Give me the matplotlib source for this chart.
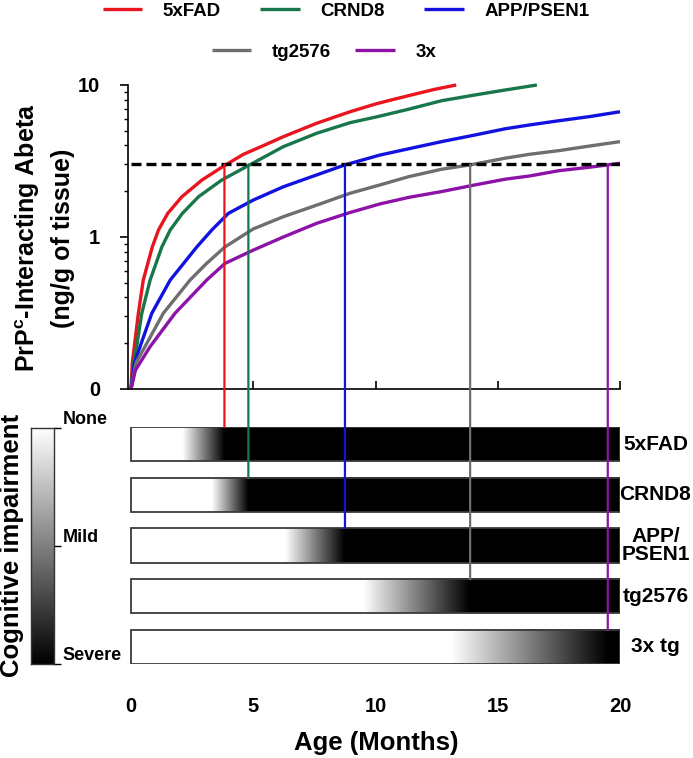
import numpy as np
import matplotlib
matplotlib.use("Agg")
import matplotlib.pyplot as plt
from matplotlib.patches import Rectangle, ConnectionPatch
from matplotlib.ticker import NullFormatter

plt.rcParams["font.family"] = ["Liberation Sans", "DejaVu Sans"]
plt.rcParams["font.weight"] = "bold"
plt.rcParams["mathtext.fontset"] = "custom"
plt.rcParams["mathtext.bf"] = "Liberation Sans:bold"
plt.rcParams["mathtext.rm"] = "Liberation Sans:bold"

# --- data ---
models = ["5xFAD", "CRND8", "APP/PSEN1", "tg2576", "3x"]
bar_labels = ["5xFAD", "CRND8", "APP/\nPSEN1", "tg2576", "3x tg"]
colors = ["#e8141e", "#17774a", "#1212e0", "#6e6e6e", "#8c12a8"]

fad_x = [0, 0.05, 0.3, 0.5, 0.87, 1.12, 1.5, 2.08, 2.9, 3.82, 4.6, 5.5, 6.23, 7.59,
         8.96, 10.0, 10.8, 11.6, 12.4, 13.3]
fad_y = [0.1, 0.148, 0.315, 0.52, 0.86, 1.11, 1.43, 1.84, 2.37, 2.95, 3.5, 4.05, 4.57, 5.6,
         6.67, 7.5, 8.09, 8.7, 9.35, 10]
crnd_x = [0, 0.1, 0.23, 0.44, 0.78, 1.26, 1.6, 2.1, 2.76, 3.71, 4.8, 6.23, 7.59, 8.96,
          10.1, 11.34, 12.7, 14.07, 15.3, 16.6]
crnd_y = [0.1, 0.148, 0.19, 0.315, 0.52, 0.86, 1.11, 1.43, 1.84, 2.37, 2.95, 3.93, 4.81, 5.65,
          6.2, 6.92, 7.88, 8.6, 9.27, 10]
app_x = [0, 0.14, 0.37, 0.85, 1.6, 2.69, 3.3, 3.98, 5.0, 6.23, 7.59, 8.75, 10.18, 11.34,
         12.7, 14.07, 15.3, 16.3, 17.5, 18.77, 20]
app_y = [0.1, 0.148, 0.19, 0.315, 0.52, 0.86, 1.11, 1.43, 1.75, 2.14, 2.56, 2.98, 3.46, 3.8,
         4.24, 4.69, 5.15, 5.46, 5.82, 6.2, 6.67]
tg_x = [0, 0.2, 0.57, 1.32, 2.41, 3.09, 3.84, 5.0, 6.23, 7.59, 8.96, 10.18, 11.34, 12.7,
        13.87, 15.3, 16.3, 17.5, 18.77, 20]
tg_y = [0.1, 0.148, 0.19, 0.315, 0.52, 0.67, 0.86, 1.13, 1.36, 1.62, 1.94, 2.2, 2.49, 2.79,
        2.98, 3.3, 3.5, 3.7, 3.97, 4.24]
tri_x = [0, 0.18, 0.78, 1.8, 3.09, 3.84, 5.0, 6.23, 7.59, 8.96, 10.18, 11.34, 12.7, 13.87,
         15.3, 16.3, 17.5, 18.77, 19.5, 20]
tri_y = [0.1, 0.133, 0.19, 0.315, 0.52, 0.67, 0.82, 1.0, 1.23, 1.45, 1.65, 1.82, 1.99, 2.17,
         2.4, 2.52, 2.73, 2.88, 2.98, 3.06]

curve_x = [fad_x, crnd_x, app_x, tg_x, tri_x]
curve_y = [fad_y, crnd_y, app_y, tg_y, tri_y]

threshold = 3.0
age_max = 20
onset_months = [3.82, 4.8, 8.75, 13.87, 19.5]    # curve crosses threshold -> full impairment
decline_start = [2.1, 3.3, 6.3, 9.5, 13.1]       # first sign of impairment
age_ticks = [0, 5, 10, 15, 20]
impairment_levels = ["None", "Mild", "Severe"]
impairment_pos = [1.0, 0.5, 0.0]

# --- layout (pixel boxes) ---
W, H = 693, 758
fig = plt.figure(figsize=(W / 100, H / 100), dpi=100)


def box(l, t, r, b):
    return [l / W, 1 - b / H, (r - l) / W, (b - t) / H]


ax1 = fig.add_axes(box(128.1, 85, 620, 389))
ax2 = fig.add_axes(box(128.1, 427, 620, 664))
axc = fig.add_axes(box(31, 428, 54, 664))

# --- top: abeta curves ---
for xs, ys, c, name in zip(curve_x, curve_y, colors, models):
    ax1.plot(xs, ys, color=c, lw=2.4, label=name, clip_on=False,
             solid_joinstyle="round", solid_capstyle="butt")
ax1.hlines(threshold, 0, age_max, colors="black", lw=2.4, linestyles=(0, (3, 1.5)))

ax1.set_yscale("log")
ax1.set_ylim(0.1, 10)
ax1.set_xlim(-0.12, age_max)
ax1.set_yticks([0.1, 1, 10])
ax1.set_yticklabels(["0", "1", "10"], fontsize=14.5)
ax1.yaxis.set_minor_formatter(NullFormatter())
ax1.tick_params(axis="y", which="major", length=6, width=1.2, pad=14)
ax1.tick_params(axis="y", which="minor", length=3, width=1)
ax1.set_xticks(age_ticks)
ax1.set_xticklabels([])
ax1.tick_params(axis="x", direction="in", length=6, width=1.2)
for s in ["top", "right"]:
    ax1.spines[s].set_visible(False)
for s in ["left", "bottom"]:
    ax1.spines[s].set_linewidth(1.2)

# --- bottom: impairment bars ---
h = 0.67
grid = np.linspace(0, age_max, 800)
for i, (s, e) in enumerate(zip(decline_start, onset_months)):
    shade = np.clip((e - grid) / (e - s), 0, 1)
    ax2.imshow(shade[None, :], cmap="gray", vmin=0, vmax=1, aspect="auto",
               extent=[0, age_max, i + h / 2, i - h / 2], interpolation="bilinear")
    ax2.add_patch(Rectangle((0, i - h / 2), age_max, h, fill=False, ec="#3a3a3a", lw=1.3))
    ax2.text(21.45, i, bar_labels[i], ha="center", va="center", fontsize=15,
             linespacing=1.0, clip_on=False)

ax2.set_xlim(-0.12, age_max)
ax2.set_ylim(len(models) - 1 + 0.335, -0.335)
ax2.set_yticks([])
ax2.set_xticks(age_ticks)
ax2.set_xticklabels([str(t) for t in age_ticks], fontsize=14.5)
ax2.tick_params(axis="x", length=0, pad=24)
for s in ax2.spines.values():
    s.set_visible(False)

# threshold drop lines
for i, (m, c) in enumerate(zip(onset_months, colors)):
    con = ConnectionPatch(xyA=(m, threshold), coordsA=ax1.transData,
                          xyB=(m, i - h / 2), coordsB=ax2.transData,
                          color=c, lw=1.6)
    fig.add_artist(con)

# --- left: impairment scale ---
axc.imshow(np.linspace(1, 0, 256)[:, None], cmap="gray", vmin=0, vmax=1,
           aspect="auto", extent=[0, 1, 0, 1])
axc.set_xticks([])
axc.yaxis.tick_right()
axc.set_yticks(impairment_pos)
axc.set_yticklabels(impairment_levels, fontsize=13)
for lbl in axc.get_yticklabels():
    lbl.set_va("bottom")
axc.tick_params(axis="y", length=5, width=1, pad=1)
for s in axc.spines.values():
    s.set_linewidth(1)
    s.set_color("#333333")

# --- text ---
fig.text(44 / W, 1 - 238 / H, "PrP$^{\\mathbf{c}}$-Interacting Abeta\n(ng/g of tissue)",
         rotation=90, ha="center", va="center", fontsize=18, linespacing=1.45,
         multialignment="center")
fig.text(12 / W, 1 - 545 / H, "Cognitive impairment", rotation=90,
         ha="center", va="center", fontsize=18.5)
fig.text(376 / W, 1 - 743 / H, "Age (Months)", ha="center", va="center", fontsize=18.5)

handles, labels = ax1.get_legend_handles_labels()
fig.legend(handles[:3], labels[:3], loc="center", bbox_to_anchor=(346 / W, 1 - 11 / H),
           ncol=3, frameon=False, fontsize=13.5, handlelength=2.1,
           handletextpad=1.1, columnspacing=2.1)
fig.legend(handles[3:], labels[3:], loc="center", bbox_to_anchor=(324 / W, 1 - 52 / H),
           ncol=2, frameon=False, fontsize=13.5, handlelength=2.1,
           handletextpad=1.1, columnspacing=1.3)

fig.savefig("out.png", dpi=100)
